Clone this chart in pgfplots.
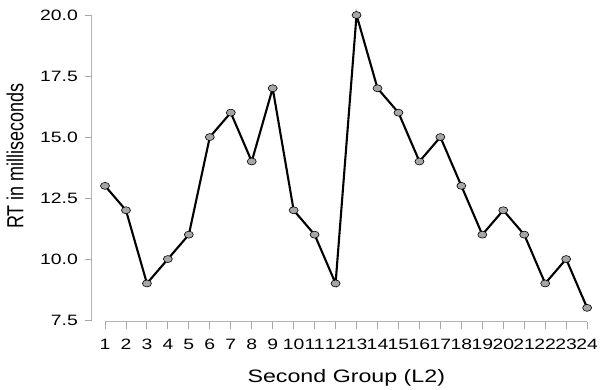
\documentclass[border=0pt]{standalone}
\usepackage{pgfplots}
\pgfplotsset{compat=1.18}
\usepackage{fontspec}
\setmainfont{Liberation Sans}[FakeStretch=1.29]
\newfontfamily\plainfont{Liberation Sans}
\begin{document}
\begin{tikzpicture}[x=1pt,y=1pt]
\begin{axis}[
  at={(92pt,68pt)}, anchor=south west,
  scale only axis, width=505.6pt, height=311.8pt,
  xmin=0.38, xmax=24.5, ymin=7.42, ymax=20.2,
  axis line style={draw=none},
  clip=false,
  tick pos=left,
  tick align=outside,
  major tick length=7pt,
  tick style={gray!70, line width=0.9pt},
  xtick={1,...,24},
  xticklabels={1,2,3,4,5,6,7,8,9,10,11,12,13,14,15,16,17,18,19,20,21,22,23,24},
  ytick={7.5,10,12.5,15,17.5,20},
  yticklabels={7.5,10.0,12.5,15.0,17.5,20.0},
  yticklabel style={font=\fontsize{15}{15}\selectfont, inner sep=0pt, xshift=-7pt},
  xticklabel style={font=\fontsize{15}{15}\selectfont, inner sep=0pt, yshift=-10pt},
  xlabel={Second Group (L2)},
  xlabel style={at={(axis description cs:0.503,0)}, anchor=center, yshift=-56pt, font=\fontsize{18}{18}\selectfont},
  ylabel={\scalebox{1}[1.29]{\plainfont RT in milliseconds}},
  ylabel style={at={([xshift=-77pt]axis description cs:0,0.532)}, anchor=center, font=\fontsize{18}{18}\selectfont},
]
\draw[gray!60, line width=1pt] (axis cs:1,7.42) -- (axis cs:24,7.42);
\draw[gray!60, line width=1pt] (axis cs:0.38,7.5) -- (axis cs:0.38,20);
\addplot[black, line width=2.1pt, mark=*, mark size=3.5pt,
  mark options={fill=gray!70, draw=black, line width=0.6pt, xscale=1.29}]
  coordinates {
  (1,13) (2,12) (3,9) (4,10) (5,11) (6,15) (7,16) (8,14) (9,17) (10,12)
  (11,11) (12,9) (13,20) (14,17) (15,16) (16,14) (17,15) (18,13) (19,11)
  (20,12) (21,11) (22,9) (23,10) (24,8)
  };
\end{axis}
\pgfresetboundingbox
\path (0,0) rectangle (600,390);
\end{tikzpicture}
\end{document}
